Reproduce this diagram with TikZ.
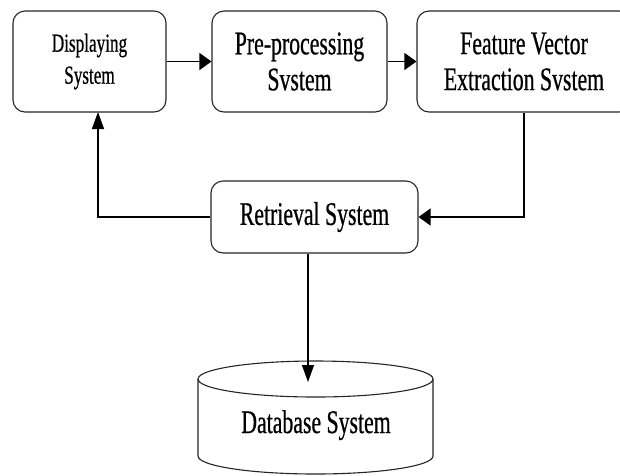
\documentclass[tikz,border=0pt]{standalone}
\usepackage{fontspec}
\setmainfont{Liberation Serif}[FakeStretch=0.66,FakeBold=0.6]
\usetikzlibrary{arrows.meta}
\begin{document}
\begin{tikzpicture}[x=1pt,y=-1pt,
  box/.style={draw=black!85, rounded corners=12pt, line width=1.1pt, align=center, inner sep=0pt,
    font=\fontsize{33}{36}\selectfont},
  conn/.style={line width=1.2pt, black},
  harr/.style={conn, -{Triangle[length=12pt,width=17pt]}},
  varr/.style={conn, -{Triangle[length=17pt,width=12pt]}}]
\clip (0,0) rectangle (620,475);
\fill[white] (0,0) rectangle (620,475);
% boxes
\node[box, minimum width=153pt, minimum height=101pt, font=\fontsize{26}{32}\selectfont] (disp) at (89.5,61.5) {Displaying\\System};
\node[box, minimum width=175pt, minimum height=101pt] (pre) at (299.5,61.5) {Pre-processing\\Svstem};
\node[box, minimum width=214pt, minimum height=101pt] (feat) at (524,61.5) {Feature Vector\\Extraction Svstem};
\node[box, minimum width=207pt, minimum height=72pt] (ret) at (314.5,217) {Retrieval System};
% database cylinder
\draw[draw=black!85, line width=1.1pt] (198,379) -- (198,456) arc[start angle=180, end angle=360, x radius=117.5, y radius=-18] -- (433,379);
\draw[draw=black!85, line width=1.1pt] (315.5,379) ellipse [x radius=117.5, y radius=18];
\node[font=\fontsize{33}{36}\selectfont, anchor=base, inner sep=0pt] (db) at (316,433) {Database System};
% connectors
\coordinate (dispin) at (98,112);
\coordinate (dbin) at (308,382);
\draw[harr] (disp.east) -- (pre.west);
\draw[harr] (pre.east) -- (feat.west);
\draw[harr] (feat.south) |- (ret.east);
\draw[varr] (ret.west) -| (dispin);
\draw[varr] (ret.south -| dbin) -- (dbin);
\end{tikzpicture}
\end{document}
